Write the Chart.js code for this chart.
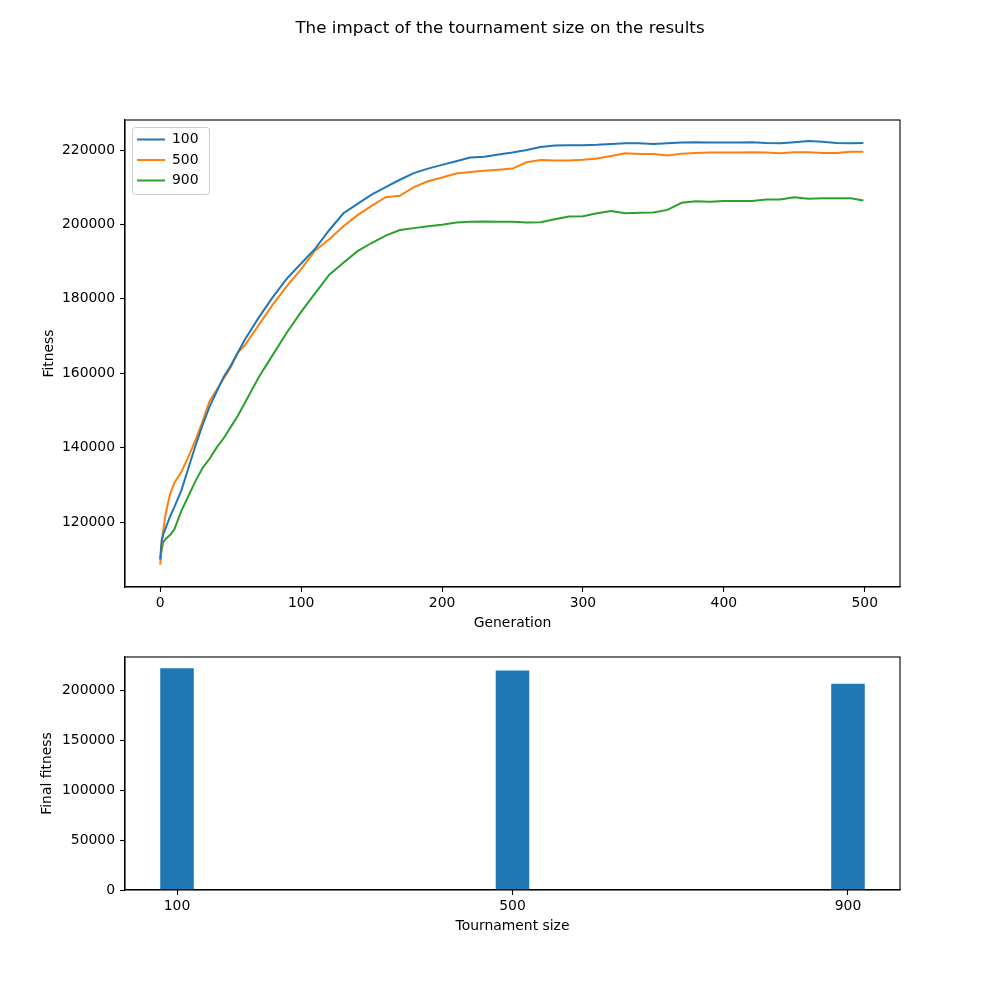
<!DOCTYPE html>
<html>
<head>
<meta charset="utf-8">
<script src="https://cdn.jsdelivr.net/npm/chart.js@4/dist/chart.umd.min.js"></script>
<style>
  html, body { margin:0; padding:0; background:#fff; }
  #wrap { position:relative; width:1000px; height:1000px; }
  canvas { position:absolute; left:0; }
  #lineChart { top:0; }
  #barChart { top:640px; }
</style>
</head>
<body>
<div id="wrap">
  <canvas id="lineChart" width="1000" height="640"></canvas>
  <canvas id="barChart" width="1000" height="360"></canvas>
</div>
<script>
// values
const generations = [0,1,2,4,7,10,15,20,25,30,35,40,45,50,55,60,70,80,90,100,110,120,130,140,150,160,170,180,190,200,210,220,230,240,250,260,270,280,290,300,310,320,330,340,350,360,370,380,390,400,410,420,430,440,450,460,470,480,490,499];
const fitness100 = [110000,115000,116500,118500,121500,124000,128500,134500,140500,146000,151000,155000,159000,162000,165500,169000,175000,180500,185500,189500,193500,198500,203000,205500,208000,210000,212000,213800,215000,216000,217000,218000,218200,218800,219300,220000,220800,221200,221300,221300,221400,221600,221800,221800,221600,221800,222000,222100,222000,222000,222000,222100,221900,221800,222100,222400,222200,221900,221800,221900];
const fitness500 = [108500,114000,117500,122500,127500,130500,133500,137500,142000,147000,152500,155500,158500,161500,165500,167500,173000,178500,183500,188000,193000,196000,199500,202500,205000,207300,207700,210000,211600,212600,213700,214100,214400,214700,215000,216700,217300,217200,217200,217400,217700,218400,219100,218900,218900,218500,219000,219200,219300,219300,219300,219400,219300,219100,219400,219400,219200,219200,219500,219500];
const fitness900 = [109800,112500,114500,115500,116500,118000,123000,127000,131000,134500,137000,140000,142500,145500,148500,152000,159000,165000,171000,176500,181500,186500,189700,192800,195000,197000,198500,199000,199500,199900,200500,200700,200800,200700,200700,200500,200600,201400,202100,202200,203000,203600,203000,203100,203200,203900,205800,206200,206100,206300,206300,206300,206700,206700,207300,206900,207000,207000,207000,206400];

const seriesLabels = ['100','500','900'];
const seriesColors = ['#1f77b4','#ff7f0e','#2ca02c'];

const tournamentSizes = [100, 500, 900];
const finalFitness = [221900, 219500, 206400];

const lineXTicks = [0,100,200,300,400,500];
const lineYTicks = [120000,140000,160000,180000,200000,220000];
const barYTicks = [0,50000,100000,150000,200000];

const figTitle = 'The impact of the tournament size on the results';

const FONT = 'DejaVu Sans';
Chart.defaults.font.family = FONT;
Chart.defaults.font.size = 13.9;
Chart.defaults.color = '#000';
Chart.defaults.animation = false;

function pts(xs, ys){ return xs.map((x,i)=>({x:x, y:ys[i]})); }
function fixedTicks(list){ return function(scale){ scale.ticks = list.map(v=>({value:v})); }; }

// full box around the plot area like matplotlib spines
const frame = {
  id:'frame',
  afterDraw(chart){
    const {ctx, chartArea:a} = chart;
    ctx.save();
    ctx.strokeStyle = '#000';
    ctx.lineWidth = 1.1;
    ctx.strokeRect(a.left, a.top, a.right-a.left, a.bottom-a.top);
    ctx.restore();
  }
};

// figure title, centred on the whole page
const supTitle = {
  id:'supTitle',
  afterDraw(chart){
    const ctx = chart.ctx;
    ctx.save();
    ctx.font = '16.7px "' + FONT + '"';
    ctx.fillStyle = '#000';
    ctx.textAlign = 'center';
    ctx.textBaseline = 'middle';
    ctx.fillText(figTitle, chart.width/2, 28.5);
    ctx.restore();
  }
};

// legend box in the upper left corner of the plot
const boxLegend = {
  id:'boxLegend',
  afterDraw(chart){
    const {ctx, chartArea:a} = chart;
    const x = a.left + 7, y = a.top + 7, w = 77, h = 67, r = 3;
    ctx.save();
    ctx.fillStyle = 'rgba(255,255,255,0.8)';
    ctx.strokeStyle = '#cccccc';
    ctx.lineWidth = 1;
    ctx.beginPath();
    ctx.roundRect(x+0.5, y+0.5, w, h, r);
    ctx.fill(); ctx.stroke();
    ctx.font = '13.9px "' + FONT + '"';
    ctx.textBaseline = 'middle';
    chart.data.datasets.forEach((ds,i)=>{
      const cy = y + 12.5 + i*20.5;
      ctx.strokeStyle = ds.borderColor;
      ctx.lineWidth = 2;
      ctx.beginPath();
      ctx.moveTo(x+5, cy); ctx.lineTo(x+33, cy);
      ctx.stroke();
      ctx.fillStyle = '#000';
      ctx.fillText(ds.label, x+40, cy);
    });
    ctx.restore();
  }
};

const axisGrid = {display:true, offset:false, drawOnChartArea:false, drawTicks:true, tickLength:5, tickWidth:1.1, tickColor:'#000'};

new Chart(document.getElementById('lineChart'), {
  type:'line',
  data:{
    datasets: seriesLabels.map((lab,i)=>({
      label: lab,
      data: pts(generations, [fitness100, fitness500, fitness900][i]),
      borderColor: seriesColors[i],
      backgroundColor: seriesColors[i],
      borderWidth: 2,
      pointRadius: 0,
      tension: 0,
      fill: false
    }))
  },
  options:{
    responsive:false,
    layout:{padding:{left:37, right:100, top:120, bottom:4}},
    plugins:{legend:{display:false}, tooltip:{enabled:false}},
    scales:{
      x:{type:'linear', min:-25, max:525, offset:false,
        afterBuildTicks: fixedTicks(lineXTicks),
        afterFit(s){ s.height = 49; },
        grid: axisGrid, border:{display:true, color:'#000', width:1.1},
        ticks:{padding:3, maxRotation:0, callback:v=>String(v)},
        title:{display:true, text:'Generation', padding:{top:4, bottom:4}}},
      y:{type:'linear', min:102527, max:228065,
        afterBuildTicks: fixedTicks(lineYTicks),
        afterFit(s){ s.width = 88; },
        grid: axisGrid, border:{display:true, color:'#000', width:1.1},
        ticks:{padding:5, callback:v=>String(v)},
        title:{display:true, text:'Fitness', padding:{top:4, bottom:4}}}
    }
  },
  plugins:[frame, boxLegend, supTitle]
});

new Chart(document.getElementById('barChart'), {
  type:'bar',
  data:{
    datasets:[{
      label:'Final fitness',
      data: pts(tournamentSizes, finalFitness),
      backgroundColor:'#1f77b4',
      borderWidth:0,
      categoryPercentage:1,
      barPercentage:0.1
    }]
  },
  options:{
    responsive:false,
    layout:{padding:{left:35, right:100, top:17, bottom:61}},
    plugins:{legend:{display:false}, tooltip:{enabled:false}},
    scales:{
      x:{type:'linear', min:38, max:962, offset:false,
        afterBuildTicks: fixedTicks(tournamentSizes),
        afterFit(s){ s.height = 49; },
        grid: axisGrid, border:{display:true, color:'#000', width:1.1},
        ticks:{padding:3, maxRotation:0, callback:v=>String(v)},
        title:{display:true, text:'Tournament size', padding:{top:4, bottom:4}}},
      y:{type:'linear', min:0, max:233100,
        afterBuildTicks: fixedTicks(barYTicks),
        afterFit(s){ s.width = 90; },
        grid: axisGrid, border:{display:true, color:'#000', width:1.1},
        ticks:{padding:5, callback:v=>String(v)},
        title:{display:true, text:'Final fitness', padding:{top:4, bottom:4}}}
    }
  },
  plugins:[frame]
});
</script>
</body>
</html>
